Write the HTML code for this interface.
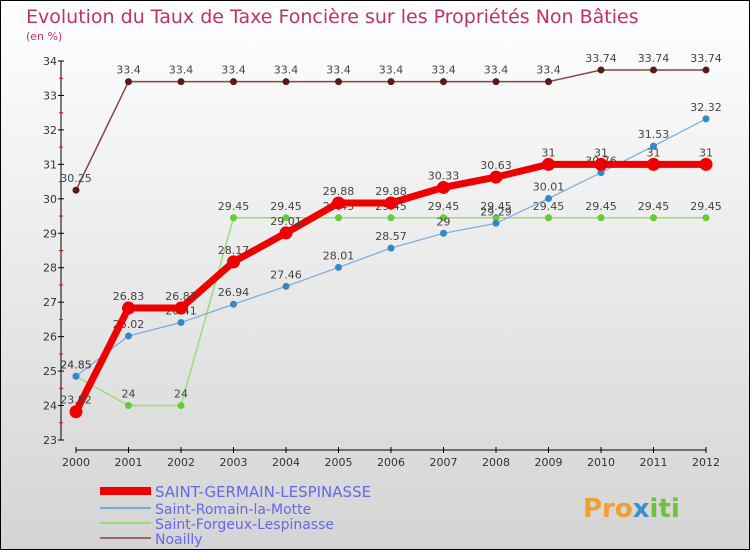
<!DOCTYPE html>
<html><head><meta charset="utf-8"><style>
body{margin:0}
svg text{font-family:"DejaVu Sans","Liberation Sans",sans-serif}
</style></head><body>
<svg id="c" width="750" height="550" xmlns="http://www.w3.org/2000/svg">
<defs><linearGradient id="bg" x1="0" y1="0" x2="0" y2="1"><stop offset="0" stop-color="#ffffff"/><stop offset="1" stop-color="#d4d4d4"/></linearGradient></defs>
<rect x="0.5" y="0.5" width="749" height="549" fill="url(#bg)" stroke="#000"/>
<text x="26" y="23" font-size="19" fill="#c0306a">Evolution du Taux de Taxe Foncière sur les Propriétés Non Bâties</text>
<text x="26" y="40" font-size="11" fill="#c0306a">(en %)</text>
<g id="axes"></g><g id="series"></g><g id="legend"></g>
<text x="583" y="517" font-size="26" font-weight="bold" fill="#f0a030">Pro<tspan fill="#3a8fd0">x</tspan><tspan fill="#70c040">iti</tspan></text>
</svg>
<script>
const years=[2000,2001,2002,2003,2004,2005,2006,2007,2008,2009,2010,2011,2012];
const yTicks=[23,24,25,26,27,28,29,30,31,32,33,34];
const sgVals=[23.82,26.83,26.83,28.17,29.01,29.88,29.88,30.33,30.63,31,31,31,31];
const srVals=[24.85,26.02,26.41,26.94,27.46,28.01,28.57,29,29.29,30.01,30.76,31.53,32.32];
const sfVals=[24.85,24,24,29.45,29.45,29.45,29.45,29.45,29.45,29.45,29.45,29.45,29.45];
const noVals=[30.25,33.4,33.4,33.4,33.4,33.4,33.4,33.4,33.4,33.4,33.74,33.74,33.74];
const names=["SAINT-GERMAIN-LESPINASSE","Saint-Romain-la-Motte","Saint-Forgeux-Lespinasse","Noailly"];
const NS="http://www.w3.org/2000/svg";
const xs=i=>76+i*52.5, ys=v=>440-(v-23)*(379/11);
function mk(p,t,a){const e=document.createElementNS(NS,t);for(const k in a)e.setAttribute(k,a[k]);p.appendChild(e);return e;}
const ax=document.getElementById('axes');
let l=mk(ax,'line',{x1:61,y1:61,x2:61,y2:440,stroke:'#000'});

l=mk(ax,'line',{x1:76,y1:450,x2:706,y2:450,stroke:'#000'});

yTicks.forEach((v,i)=>{mk(ax,'line',{x1:58,x2:64,y1:ys(v),y2:ys(v),stroke:'#000'});
 if(i<yTicks.length-1)mk(ax,'line',{x1:59,x2:63,y1:ys(v+0.5),y2:ys(v+0.5),stroke:'red'});
 const t=mk(ax,'text',{x:57,y:ys(v)+4,'font-size':11,'text-anchor':'end',fill:'#333'});t.textContent=v;
 });
years.forEach((y,i)=>{mk(ax,'line',{x1:xs(i),x2:xs(i),y1:447,y2:453,stroke:'#000'});
 const t=mk(ax,'text',{x:xs(i),y:466,'font-size':11,'text-anchor':'middle',fill:'#333'});t.textContent=y;
 });
const sg=document.getElementById('series');
const defs=[[noVals,'#884444','#5a1a1a',1.5,3.5,'noailly'],[sfVals,'#99dd77','#66cc33',1.5,3.5,'saint-forgeux'],[srVals,'#77aadd','#3388cc',1.2,3.5,'saint-romain'],[sgVals,'#ee0000','#ee0000',7,6.5,'saint-germain']];
defs.forEach(([vals,lc,pc,w,r,n])=>{
 const g=mk(sg,'g',{});
 const p=mk(g,'polyline',{points:vals.map((v,i)=>xs(i)+','+ys(v)).join(' '),fill:'none',stroke:lc,'stroke-width':w});
 
 vals.forEach((v,i)=>{const c=mk(g,'circle',{cx:xs(i),cy:ys(v),r:r,fill:pc});
  
  const t=mk(g,'text',{x:xs(i),y:ys(v)-8,'font-size':11,'text-anchor':'middle',fill:'#444'});t.textContent=v;
  });
});
const lg=document.getElementById('legend');
const lcol=['#ee0000','#77aadd','#99dd77','#996666'],lw=[8,2,2,2],ly=[491,508,523,538];
names.forEach((n,i)=>{const g=mk(lg,'g',{});
 mk(g,'line',{x1:100,x2:151,y1:ly[i],y2:ly[i],stroke:lcol[i],'stroke-width':lw[i]});
 const t=mk(g,'text',{x:155,y:ly[i]+6,'font-size':i==0?15:14,fill:'#6666ee'});t.textContent=n;});
</script>
</body></html>
